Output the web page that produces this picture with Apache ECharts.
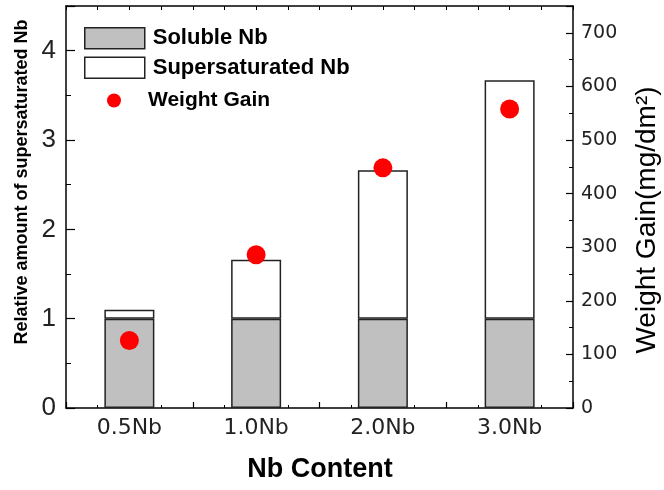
<!DOCTYPE html>
<html>
<head>
<meta charset="utf-8">
<script src="https://cdn.jsdelivr.net/npm/echarts@6/dist/echarts.min.js"></script>
<style>
html,body{margin:0;padding:0;background:#fff;}
#chart{width:664px;height:490px;}
</style>
</head>
<body>
<div id="chart"></div>
<script>
var categories = ['0.5Nb', '1.0Nb', '2.0Nb', '3.0Nb'];
var solubleNb = [1.0, 1.0, 1.0, 1.0];
var supersaturatedNb = [0.1, 0.66, 1.66, 2.67];
var weightGain = [126, 286, 448, 558];

var chart = echarts.init(document.getElementById('chart'));
var black = '#000';
var option = {
  animation: false,
  backgroundColor: '#fff',
  grid: { left: 66, right: 91, top: 6, bottom: 82, containLabel: false },
  legend: [
    {
      data: ['Soluble Nb', 'Supersaturated Nb'],
      orient: 'vertical', left: 84, top: 27, padding: 0,
      icon: 'rect',
      itemWidth: 60, itemHeight: 21, itemGap: 7,
      itemStyle: { borderColor: '#222', borderWidth: 1.5 },
      textStyle: { fontFamily: 'Arial, Liberation Sans', fontWeight: 'bold', fontSize: 22, color: '#000', padding: [0, 0, 0, 3] }
    },
    {
      data: ['Weight Gain'],
      orient: 'vertical', left: 107, top: 90, padding: 0,
      itemWidth: 14, itemHeight: 14, icon: 'circle',
      itemStyle: { borderWidth: 0, opacity: 1 },
      textStyle: { fontFamily: 'Arial, Liberation Sans', fontWeight: 'bold', fontSize: 21, color: '#000', padding: [0, 0, 0, 22] }
    }
  ],
  xAxis: [
    {
      type: 'category', data: categories, position: 'bottom',
      axisLine: { onZero: false, lineStyle: { color: black, width: 1.5 } },
      axisTick: { show: false },
      axisLabel: { fontFamily: 'DejaVu Sans', fontSize: 22, color: '#222', margin: 9 },
      splitLine: { show: false }
    },
    {
      type: 'value', position: 'bottom', min: -1, max: 15, interval: 2,
      axisLine: { show: false, onZero: false },
      axisTick: { show: true, inside: true, length: 6, lineStyle: { color: black, width: 1.2 } },
      minorTick: { show: true, splitNumber: 2, length: 3, lineStyle: { color: black, width: 1 } },
      axisLabel: { show: false }, splitLine: { show: false }
    },
    {
      type: 'value', position: 'top', min: -1, max: 15, interval: 1,
      axisLine: { show: true, onZero: false, lineStyle: { color: black, width: 1.5 } },
      axisTick: { show: true, inside: true, length: 4, lineStyle: { color: black, width: 1 } },
      axisLabel: { show: false }, splitLine: { show: false }
    }
  ],
  yAxis: [
    {
      type: 'value', min: 0, max: 4.5, interval: 1, position: 'left',
      axisLine: { show: true, onZero: false, lineStyle: { color: black, width: 1.5 } },
      axisTick: { show: true, inside: true, length: 9, lineStyle: { color: black, width: 1.2 } },
      minorTick: { show: true, splitNumber: 2, length: 5, lineStyle: { color: black, width: 1 } },
      axisLabel: { fontFamily: 'Arial, Liberation Sans', fontSize: 26, color: '#222', margin: 10, showMaxLabel: false },
      splitLine: { show: false }
    },
    {
      type: 'value', min: 0, max: 750, interval: 100, position: 'right',
      axisLine: { show: true, onZero: false, lineStyle: { color: black, width: 1.5 } },
      axisTick: { show: true, inside: true, length: 7, lineStyle: { color: black, width: 1.2 } },
      minorTick: { show: true, splitNumber: 2, length: 4, lineStyle: { color: black, width: 1 } },
      axisLabel: { fontFamily: 'DejaVu Sans', fontSize: 19, color: '#222', margin: 8, showMaxLabel: false },
      splitLine: { show: false }
    }
  ],
  series: [
    {
      name: 'Soluble Nb', type: 'bar', stack: 'nb', data: solubleNb,
      xAxisIndex: 0, yAxisIndex: 0, barWidth: 50,
      itemStyle: { color: '#c0c0c0', borderColor: '#222', borderWidth: 1.5 }
    },
    {
      name: 'Supersaturated Nb', type: 'bar', stack: 'nb', data: supersaturatedNb,
      xAxisIndex: 0, yAxisIndex: 0, barWidth: 50,
      itemStyle: { color: '#fff', borderColor: '#222', borderWidth: 1.5 }
    },
    {
      name: 'Weight Gain', type: 'scatter', data: weightGain,
      xAxisIndex: 0, yAxisIndex: 1, symbol: 'circle', symbolSize: 19, z: 5,
      itemStyle: { color: '#ff0000', opacity: 1 }
    }
  ],
  graphic: [
    {
      type: 'text', x: 22, y: 182, rotation: Math.PI / 2,
      style: { text: 'Relative amount of supersaturated Nb', font: 'bold 18px Arial, Liberation Sans', fill: '#000', textAlign: 'center', textVerticalAlign: 'middle' }
    },
    {
      type: 'text', x: 647, y: 220, rotation: Math.PI / 2,
      style: { text: 'Weight Gain(mg/dm\u00B2)', font: '28px Arial, Liberation Sans', fill: '#000', textAlign: 'center', textVerticalAlign: 'middle' }
    },
    {
      type: 'text', x: 320, y: 470,
      style: { text: 'Nb Content', font: 'bold 27px Arial, Liberation Sans', fill: '#000', textAlign: 'center', textVerticalAlign: 'middle' }
    }
  ]
};
chart.setOption(option);
</script>
</body>
</html>
